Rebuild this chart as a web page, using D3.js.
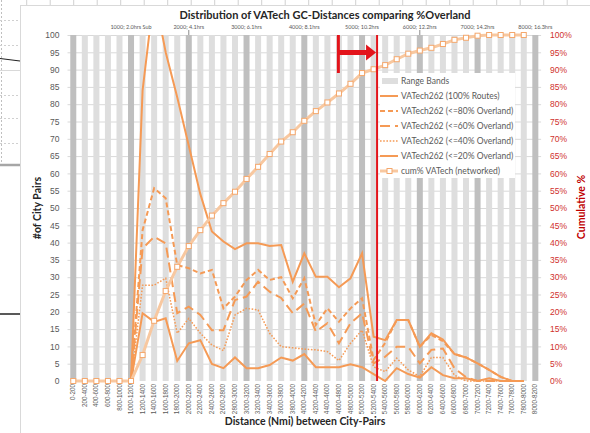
<!DOCTYPE html>
<html>
<head>
<meta charset="utf-8">
<script src="https://d3js.org/d3.v7.min.js"></script>
<style>
  body { margin: 0; background: #fff; }
  svg { display: block; font-family: Lato, "Liberation Sans", sans-serif; }
</style>
</head>
<body>
<div id="chart"></div>
<script>
// Distance bins (nmi), one per category
const bins = ["0-200","200-400","400-600","600-800","800-1000","1000-1200","1200-1400","1400-1600","1600-1800","1800-2000",
  "2000-2200","2200-2400","2400-2600","2600-2800","2800-3000","3000-3200","3200-3400","3400-3600","3600-3800","3800-4000",
  "4000-4200","4200-4400","4400-4600","4600-4800","4800-5000","5000-5200","5200-5400","5400-5600","5600-5800","5800-6000",
  "6000-6200","6200-6400","6400-6600","6600-6800","6800-7000","7000-7200","7200-7400","7400-7600","7600-7800","7800-8000",
  "8000-8200"];

// # of city pairs per bin
const routes100 = [0,0,0,0,0,0,84,112,95,82,68,54,43.2,40.3,38.1,39.8,39.8,39,39.3,28.7,36.9,30.1,30.1,27.1,29.7,36.9,12.8,11.8,17.6,17.6,9.9,13.8,12,7.8,6.8,5.1,3.2,1.2,0,0];
const over80 = [0,0,0,0,0,0,43.6,55.7,52.8,33.5,32.6,31.1,32.1,21,24.4,29.2,32.1,29.2,30,23.9,29.7,16.2,21,17.1,21,23.9,6.1,11,17.6,17.6,9.9,13.3,11.5,7.8,6.8,5.1,3.2,1.2,0,0];
const over60 = [0,0,0,0,0,0,38.3,41.7,39.8,19.6,21.5,19.1,14.7,14.7,23.4,24.4,28.7,25.8,24,19.6,22.4,14.3,16.7,10.9,16.7,19.6,5.1,7,9.9,9.9,5.1,9,9.4,3.7,1.1,0,0,0,0,0];
const over40 = [0,0,0,0,0,0,27.7,27.7,29.7,13.8,18.1,13.8,10.4,8.8,19.1,21,20.5,13.8,9.9,9.6,9.2,9,8.5,5.9,10.9,14.7,4.1,2.7,6.6,3.2,1.3,6.8,6.8,1.7,0,0,0,0,0,0];
const over20 = [0,0,0,0,0,0,19.6,17.1,18.1,5.8,10.9,11.8,4.9,3.7,6.8,3.7,3.7,4.6,6.8,5.9,7.8,4,4,4,4.8,4,2,0,3.7,2,1,4,1.7,0.8,0.8,0,0.8,0,0,0];

// cumulative share (%), right axis
const cumPct = [0,0,0,0,0,0,7.5,17.4,26,33,39,43.6,47.8,51.4,54.7,58.4,61.9,65.6,69.2,71.9,75.2,78,80.5,83.1,85.9,89,90.1,91.3,93,94.6,95.5,96.3,97.4,98.6,99.2,99.8,100,100,100,100];

// range bands (full height columns)
const bandValue = bins.map(() => 100);

// top axis milestones
const milestoneNmi = [1000,2000,3000,4000,5000,6000,7000,8000];
const milestoneLabels = ["1000; 2.0hrs Sub","2000; 4.1hrs","3000; 6.1hrs","4000; 8.1hrs","5000; 10.2hrs","6000; 12.2hrs","7000; 14.2hrs","8000; 16.3hrs"];

// marker: networked range limit
const limitNmi = 5260;
const arrowFromNmi = 4590;

const orange = "#f59a55";
const red = "#e3141b";

const W = 590, H = 433;
const plot = { left: 67.5, right: 541.1, top: 35, bottom: 381 };

const svg = d3.select("#chart").append("svg").attr("width", W).attr("height", H);

// spreadsheet behind the chart object
const sheet = svg.append("g");
sheet.append("line").attr("x1", 1.5).attr("x2", 1.5).attr("y1", 0).attr("y2", 167)
  .attr("stroke", "#bfbfbf").attr("stroke-dasharray", "2,2");
sheet.selectAll(".row").data([20, 45, 95, 118, 143]).join("line")
  .attr("x1", 0).attr("x2", 20).attr("y1", d => d + 0.5).attr("y2", d => d + 0.5)
  .attr("stroke", "#d0d0d0").attr("stroke-dasharray", "2,2");
sheet.append("line").attr("x1", 0).attr("x2", 20).attr("y1", 70.5).attr("y2", 70.5).attr("stroke", "#d9d9d9");
sheet.append("line").attr("x1", 0).attr("x2", 20).attr("y1", 58.5).attr("y2", 61).attr("stroke", "#222").attr("stroke-width", 1.2);
sheet.append("line").attr("x1", 0).attr("x2", 20).attr("y1", 165).attr("y2", 165).attr("stroke", "#a6a6a6").attr("stroke-width", 2.5);
sheet.append("line").attr("x1", 0).attr("x2", 20).attr("y1", 314).attr("y2", 314).attr("stroke", "#222").attr("stroke-width", 1.5);
sheet.selectAll(".col").data(d3.range(26.7, 590, 23.5)).join("line")
  .attr("x1", d => d).attr("x2", d => d).attr("y1", 0).attr("y2", 5)
  .attr("stroke", "#d0d0d0");

// chart frame
svg.append("rect").attr("x", 20.5).attr("y", 5.5).attr("width", 600).attr("height", 440)
  .attr("fill", "#fff").attr("stroke", "#d9d9d9");

const x = d3.scaleBand().domain(bins).range([plot.left, plot.right]).paddingInner(0.48).paddingOuter(0.24);
const xc = i => x(bins[i]) + x.bandwidth() / 2;
const xd = d3.scaleLinear().domain([0, 8000]).range([xc(0), xc(40)]);
const y = d3.scaleLinear().domain([0, 100]).range([plot.bottom, plot.top]);
const yPct = d3.scaleLinear().domain([0, 1]).range([plot.bottom, plot.top]);

// gridlines
svg.append("g")
  .selectAll("line").data(d3.range(5, 101, 5)).join("line")
  .attr("x1", plot.left).attr("x2", plot.right)
  .attr("y1", d => y(d) + 0.5).attr("y2", d => y(d) + 0.5)
  .attr("stroke", "#d9d9d9");

// range bands
svg.append("g")
  .selectAll("rect").data(bandValue).join("rect")
  .attr("x", (d, i) => x(bins[i]))
  .attr("width", x.bandwidth())
  .attr("y", d => y(d))
  .attr("height", d => y(0) - y(d))
  .attr("fill", (d, i) => i % 5 === 0 ? "#bfbfbf" : "#dedede");

// left axis
const yAxis = svg.append("g")
  .attr("transform", `translate(${plot.left - 8},0)`)
  .call(d3.axisLeft(y).tickValues(d3.range(0, 101, 5)).tickSize(0).tickPadding(0));
yAxis.select(".domain").remove();
yAxis.selectAll("text").attr("fill", "#595959").style("font-size", "8.5px");

// right axis
const yAxisR = svg.append("g")
  .attr("transform", `translate(${plot.right + 9},0)`)
  .call(d3.axisRight(yPct).tickValues(d3.range(0, 1.001, 0.05)).tickFormat(d3.format(".0%")).tickSize(0).tickPadding(0));
yAxisR.select(".domain").remove();
yAxisR.selectAll("text").attr("fill", "#d0312d").style("font-size", "8.5px");

// bottom category labels
const xAxis = svg.append("g")
  .attr("transform", `translate(0,${plot.bottom + 3})`)
  .call(d3.axisBottom(x).tickSize(0).tickPadding(0));
xAxis.select(".domain").remove();
xAxis.selectAll("text")
  .attr("fill", "#595959").style("font-size", "6.3px")
  .attr("text-anchor", "end")
  .attr("transform", "rotate(-90)")
  .attr("x", 0).attr("y", 0).attr("dx", 0).attr("dy", "0.32em");

// top axis milestones
const topAxis = svg.append("g").attr("transform", `translate(0,${plot.top})`);
topAxis.selectAll("text").data(milestoneNmi).join("text")
  .attr("x", d => xd(d)).attr("y", -6)
  .attr("text-anchor", "middle")
  .attr("fill", "#595959").style("font-size", "5.5px")
  .text((d, i) => milestoneLabels[i]);
topAxis.selectAll("line").data([2000, 6000]).join("line")
  .attr("x1", d => xd(d)).attr("x2", d => xd(d))
  .attr("y1", -5).attr("y2", 0)
  .attr("stroke", "#8c8c8c");

// series lines
svg.append("defs").append("clipPath").attr("id", "clip")
  .append("rect").attr("x", plot.left).attr("y", plot.top)
  .attr("width", plot.right - plot.left).attr("height", plot.bottom - plot.top + 2);

const line = d3.line().x((d, i) => xc(i)).y(d => y(d));
const series = [
  { name: "VATech262 (100% Routes)", values: routes100, dash: null, width: 2 },
  { name: "VATech262 (<=80% Overland)", values: over80, dash: "5,3", width: 2 },
  { name: "VATech262 (<=60% Overland)", values: over60, dash: "10,5", width: 2 },
  { name: "VATech262 (<=40% Overland)", values: over40, dash: "1.6,1.6", width: 1.5 },
  { name: "VATech262 (<=20% Overland)", values: over20, dash: null, width: 2 }
];

const lines = svg.append("g").attr("clip-path", "url(#clip)");
lines.selectAll("path").data(series).join("path")
  .attr("d", d => line(d.values))
  .attr("fill", "none")
  .attr("stroke", orange)
  .attr("stroke-width", d => d.width)
  .attr("stroke-dasharray", d => d.dash);

// cumulative line
const cumLine = d3.line().x((d, i) => xc(i)).y(d => yPct(d / 100));
svg.append("path").attr("d", cumLine(cumPct))
  .attr("fill", "none").attr("stroke", "#f8c8a0").attr("stroke-width", 3);
svg.append("g").selectAll("rect").data(cumPct).join("rect")
  .attr("x", (d, i) => xc(i) - 2.5).attr("y", d => yPct(d / 100) - 2.5)
  .attr("width", 5).attr("height", 5)
  .attr("fill", "#fff").attr("stroke", "#f4a76c").attr("stroke-width", 1);

// red limit line and arrow
svg.append("line")
  .attr("x1", xd(limitNmi)).attr("x2", xd(limitNmi))
  .attr("y1", plot.top).attr("y2", plot.bottom)
  .attr("stroke", red).attr("stroke-width", 2);
const ay = 52.5;
svg.append("line")
  .attr("x1", xd(arrowFromNmi)).attr("x2", xd(arrowFromNmi))
  .attr("y1", plot.top).attr("y2", 73)
  .attr("stroke", red).attr("stroke-width", 3);
svg.append("line")
  .attr("x1", xd(arrowFromNmi)).attr("x2", xd(limitNmi) - 10)
  .attr("y1", ay).attr("y2", ay)
  .attr("stroke", red).attr("stroke-width", 5);
svg.append("path")
  .attr("d", `M${xd(limitNmi) - 11},${ay - 8}L${xd(limitNmi) - 1},${ay}L${xd(limitNmi) - 11},${ay + 8}Z`)
  .attr("fill", red);

// legend
const legend = svg.append("g").attr("transform", "translate(380,73)");
legend.append("rect").attr("width", 135).attr("height", 105).attr("fill", "#fff");
const items = [{ name: "Range Bands", type: "band" }]
  .concat(series.map(s => ({ name: s.name, type: "line", dash: s.dash, width: s.width })))
  .concat([{ name: "cum% VATech (networked)", type: "cum" }]);
const li = legend.selectAll("g").data(items).join("g")
  .attr("transform", (d, i) => `translate(0,${8 + i * 15})`);
li.filter(d => d.type === "band").append("rect")
  .attr("x", 2).attr("y", -3).attr("width", 16).attr("height", 6).attr("fill", "#dedede");
li.filter(d => d.type === "line").append("line")
  .attr("x1", 0).attr("x2", 18).attr("stroke", orange)
  .attr("stroke-width", d => d.width).attr("stroke-dasharray", d => d.dash);
li.filter(d => d.type === "cum").append("line")
  .attr("x1", 0).attr("x2", 18).attr("stroke", "#f8c8a0").attr("stroke-width", 3);
li.filter(d => d.type === "cum").append("rect")
  .attr("x", 7).attr("y", -2.5).attr("width", 5).attr("height", 5)
  .attr("fill", "#fff").attr("stroke", "#f4a76c");
li.append("text").attr("x", 21).attr("dy", "0.35em")
  .attr("fill", "#595959").style("font-size", "8.5px").text(d => d.name);

// titles
svg.append("text").attr("x", 325).attr("y", 19).attr("text-anchor", "middle")
  .style("font-size", "11px").style("font-weight", "bold").attr("fill", "#262626")
  .text("Distribution of VATech GC-Distances comparing %Overland");
svg.append("text").attr("x", 305).attr("y", 425).attr("text-anchor", "middle")
  .style("font-size", "10.5px").style("font-weight", "bold").attr("fill", "#262626")
  .text("Distance (Nmi) between City-Pairs");
svg.append("text").attr("transform", "translate(41,208) rotate(-90)").attr("text-anchor", "middle")
  .style("font-size", "10.5px").style("font-weight", "bold").attr("fill", "#262626")
  .text("#of City Pairs");
svg.append("text").attr("transform", "translate(585,207) rotate(-90)").attr("text-anchor", "middle")
  .style("font-size", "10.5px").style("font-weight", "bold").attr("fill", "#c00000")
  .text("Cumulative %");
</script>
</body>
</html>
